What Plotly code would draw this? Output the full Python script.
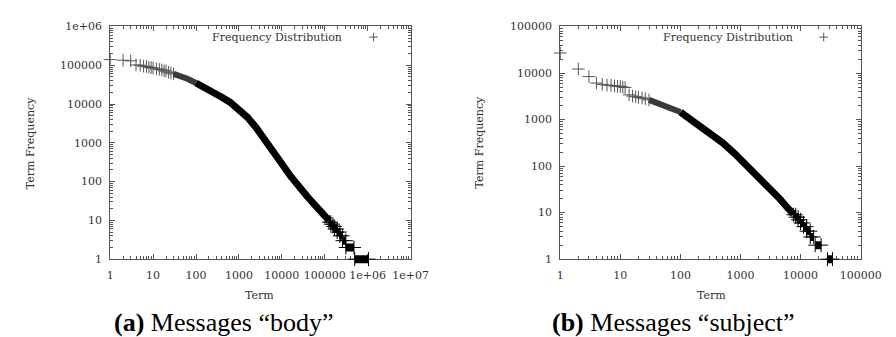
import plotly.graph_objects as go

# ---------------- data ----------------
# (a) Messages "body": rank (Term) vs Term Frequency
body_sparse_rank = [1, 2, 3, 4, 5, 6, 7, 8, 9, 10, 12, 14, 16, 18, 20, 23, 26, 30]
body_sparse_freq = [140000, 135000, 130000, 102000, 100000, 95000, 93000, 89000, 87000, 85000,
                    81000, 79000, 76000, 72000, 71000, 66000, 63000, 60000]
body_light_rank = [30, 40, 63, 100]
body_light_freq = [60000, 55000, 45000, 35000]
body_band_rank = [100, 160, 250, 400, 630, 1000, 1600, 2500, 4000, 6300, 10000,
                  16000, 25000, 40000, 63000, 100000, 125000]
body_band_freq = [35000, 27000, 20500, 15000, 11000, 7200, 4500, 2500, 1260,
                  600, 290, 138, 72, 40, 23, 12.6, 10]
body_step_freq = [9, 8, 7, 6, 5, 4, 3, 2, 1]
body_step_start = [125000, 138000, 155000, 170000, 195000, 225000, 260000, 310000, 500000]
body_step_end = [138000, 155000, 170000, 195000, 225000, 260000, 310000, 480000, 1050000]

# (b) Messages "subject"
subj_sparse_rank = [1, 2, 3, 4, 5, 6, 7, 8, 9, 10, 11, 12, 14, 16, 18, 20, 23, 26, 30]
subj_sparse_freq = [27000, 12200, 8400, 6100, 5700, 5500, 5400, 5300, 5200, 5150, 5000, 4900,
                    3400, 3200, 3100, 3000, 2900, 2800, 2650]
subj_light_rank = [30, 50, 80, 100]
subj_light_freq = [2650, 2100, 1650, 1450]
subj_band_rank = [100, 126, 160, 200, 320, 500, 800, 1260, 2000, 3160, 4470, 6300, 7600]
subj_band_freq = [1450, 1180, 950, 780, 520, 320, 186, 105, 60, 33, 20, 12, 9.5]
subj_step_freq = [9, 8, 7, 6, 5, 4, 3, 2, 1]
subj_step_start = [7600, 8300, 9100, 10000, 11200, 12600, 14500, 17500, 28000]
subj_step_end = [8300, 9100, 10000, 11200, 12600, 14500, 16500, 22000, 34000]

body_x_ticks = [1, 10, 100, 1000, 10000, 100000, 1000000, 10000000]
body_x_text = ["1", "10", "100", "1000", "10000", "100000", "1e+06", "1e+07"]
body_y_ticks = [1, 10, 100, 1000, 10000, 100000, 1000000]
body_y_text = ["1", "10", "100", "1000", "10000", "100000", "1e+06"]
subj_x_ticks = [1, 10, 100, 1000, 10000, 100000]
subj_x_text = ["1", "10", "100", "1000", "10000", "100000"]
subj_y_ticks = [1, 10, 100, 1000, 10000, 100000]
subj_y_text = ["1", "10", "100", "1000", "10000", "100000"]

legend_label = "Frequency Distribution"
x_title = "Term"
y_title = "Term Frequency"
captions = ["<b>(a)</b> Messages \u201cbody\u201d", "<b>(b)</b> Messages \u201csubject\u201d"]

# ---------------- figure ----------------
W, H = 896, 337
FONT = "DejaVu Serif"
AX = "#555555"
TXT = "#333333"
TOP, BOT = 13, 255
PAD = 12  # extra px below the frame so the bottom step is not clipped


def px(x):
    return x / W


def py(y):
    return 1 - y / H


def steps(freqs, starts, ends):
    xs, ys = [], []
    for f, a, b in zip(freqs, starts, ends):
        xs += [a, b, None]
        ys += [f, f, None]
    return xs, ys


fig = go.Figure()

panels = [
    dict(xa="x", ya="y", ya_ext="y3", sr=body_sparse_rank, sf=body_sparse_freq,
         lr=body_light_rank, lf=body_light_freq, br=body_band_rank,
         bf=body_band_freq, st=(body_step_freq, body_step_start, body_step_end)),
    dict(xa="x2", ya="y2", ya_ext="y4", sr=subj_sparse_rank, sf=subj_sparse_freq,
         lr=subj_light_rank, lf=subj_light_freq, br=subj_band_rank,
         bf=subj_band_freq, st=(subj_step_freq, subj_step_start, subj_step_end)),
]
cross = dict(symbol="cross-thin", size=9, color="#555", line=dict(width=1, color="#555"))
for p in panels:
    fig.add_trace(go.Scatter(x=p["sr"], y=p["sf"], mode="markers", marker=cross,
                             cliponaxis=False,
                             xaxis=p["xa"], yaxis=p["ya"], showlegend=False))
    fig.add_trace(go.Scatter(x=p["lr"], y=p["lf"], mode="lines",
                             line=dict(color="#3a3a3a", width=6),
                             xaxis=p["xa"], yaxis=p["ya"], showlegend=False))
    fig.add_trace(go.Scatter(x=p["br"], y=p["bf"], mode="lines",
                             line=dict(color="black", width=7),
                             xaxis=p["xa"], yaxis=p["ya"], showlegend=False))
    sx, sy = steps(*p["st"])
    fig.add_trace(go.Scatter(x=sx, y=sy, mode="lines+markers", connectgaps=False,
                             cliponaxis=False,
                             line=dict(color="black", width=8),
                             marker=dict(symbol="cross-thin", size=10, color="black",
                                         line=dict(width=1, color="black")),
                             xaxis=p["xa"], yaxis=p["ya_ext"], showlegend=False))


def minor_vals(maxdec):
    v = []
    for d in range(maxdec):
        for m in range(2, 10):
            v.append(m * 10 ** d)
    return v


def axis(domain, tickvals, ticktext, rng, anchor, side):
    return dict(type="log", domain=domain, range=rng, anchor=anchor,
                tickmode="array", tickvals=tickvals, ticktext=ticktext,
                showgrid=False, zeroline=False, showline=True, linecolor=AX, linewidth=1,
                mirror="ticks", ticks="inside", ticklen=5, tickcolor=AX, tickwidth=1,
                minor=dict(ticks="inside", ticklen=3, tickcolor=AX, tickwidth=1,
                           tickmode="array", tickvals=minor_vals(len(tickvals) - 1),
                           showgrid=False),
                tickfont=dict(family=FONT, size=11, color=TXT),
                ticklabelstandoff=5 if side == "y" else 6)


def ext_axis(ndec, anchor):
    # same scale as the main y axis, but reaching PAD px lower (hidden)
    per = (BOT - TOP) / ndec
    return dict(type="log", domain=[py(BOT + PAD), py(TOP)], range=[-PAD / per, ndec],
                anchor=anchor, visible=False, showgrid=False, zeroline=False)


ydom = [py(BOT), py(TOP)]
fig.update_layout(
    width=W, height=H, margin=dict(l=0, r=0, t=0, b=0),
    paper_bgcolor="white", plot_bgcolor="rgba(0,0,0,0)", showlegend=False,
    xaxis=axis([px(101), px(410)], body_x_ticks, body_x_text, [0, 7], "y", "x"),
    yaxis=axis(ydom, body_y_ticks, body_y_text, [0, 6], "x", "y"),
    xaxis2=axis([px(564), px(873)], subj_x_ticks, subj_x_text, [0, 5], "y2", "x"),
    yaxis2=axis(ydom, subj_y_ticks, subj_y_text, [0, 5], "x2", "y"),
    yaxis3=ext_axis(6, "x"),
    yaxis4=ext_axis(5, "x2"),
)

ann = []
shapes = []
for xt_c, yt_c, leg_r, leg_cross, cap_c, cap in [
    (255, 19, 342, 372, 218, captions[0]),
    (720, 481, 805, 835, 681, captions[1]),
]:
    ann.append(dict(text=x_title, x=px(xt_c), y=py(293), xref="paper", yref="paper",
                    showarrow=False, xanchor="center", yanchor="middle",
                    font=dict(family=FONT, size=11, color=TXT)))
    ann.append(dict(text=y_title, x=px(yt_c), y=py(134), xref="paper", yref="paper",
                    showarrow=False, xanchor="center", yanchor="middle", textangle=-90,
                    font=dict(family=FONT, size=11, color=TXT)))
    ann.append(dict(text=legend_label, x=px(leg_r), y=py(24), xref="paper", yref="paper",
                    showarrow=False, xanchor="right", yanchor="middle",
                    font=dict(family=FONT, size=11, color=TXT)))
    ann.append(dict(text=cap, x=px(cap_c), y=py(321), xref="paper", yref="paper",
                    showarrow=False, xanchor="center", yanchor="middle",
                    font=dict(family="Liberation Serif", size=26, color="black")))
    shapes.append(dict(type="line", xref="paper", yref="paper",
                       x0=px(leg_cross - 4.5), x1=px(leg_cross + 4.5), y0=py(24), y1=py(24),
                       line=dict(color="#555", width=1)))
    shapes.append(dict(type="line", xref="paper", yref="paper",
                       x0=px(leg_cross), x1=px(leg_cross), y0=py(19.5), y1=py(28.5),
                       line=dict(color="#555", width=1)))

fig.update_layout(annotations=ann, shapes=shapes)
fig.write_html("out.html")
